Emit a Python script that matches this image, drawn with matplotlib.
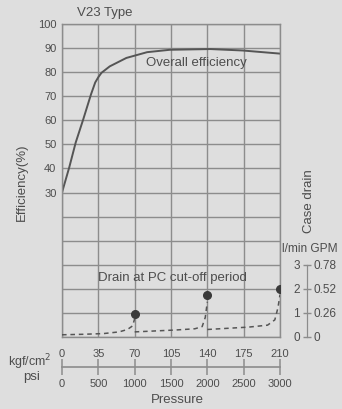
import matplotlib
matplotlib.use("Agg")
import matplotlib.pyplot as plt

# ---- data ----
eff_p = [0, 7, 13.2, 20.5, 27.9, 32, 35, 38, 46, 62, 82, 104, 143, 174, 210]
eff_v = [30, 40.5, 50.8, 60.5, 70.8, 75.8, 78, 79.8, 82.5, 86, 88.4, 89.4, 89.7, 89.1, 87.8]

seg1_p = [0, 20, 40, 55, 63, 68, 70]
seg1_d = [0.08, 0.1, 0.13, 0.2, 0.3, 0.45, 0.75]
seg2_p = [70, 90, 110, 128, 135, 138, 140]
seg2_d = [0.2, 0.24, 0.28, 0.33, 0.42, 0.8, 1.45]
seg3_p = [140, 160, 180, 198, 205, 208, 210]
seg3_d = [0.3, 0.35, 0.4, 0.48, 0.7, 1.2, 1.75]
dot_p = [70, 140, 210]
dot_d = [0.93, 1.73, 1.97]

kgf_ticks = [0, 35, 70, 105, 140, 175, 210]
kgf_labels = ["0", "35", "70", "105", "140", "175", "210"]
psi_labels = ["0", "500", "1000", "1500", "2000", "2500", "3000"]
eff_ticks = list(range(-30, 101, 10))
eff_labels = [str(t) if t >= 30 else "" for t in eff_ticks]
drain_ticks = [0, 1, 2, 3]
drain_labels = ["0", "1", "2", "3"]
gpm_labels = ["0", "0.26", "0.52", "0.78"]

# ---- style ----
W, H = 342, 409
BG = "#dedede"
TXT = "#4d4d4d"
GRID = "#8c8c8c"
LINE = "#555555"
FONT = "Liberation Sans"
plt.rcParams["font.family"] = [FONT, "DejaVu Sans"]

fig = plt.figure(figsize=(W / 100, H / 100), dpi=100, facecolor=BG)

def fx(x):
    return x / W

def fy(y):
    return 1 - y / H

L, R, T, B = 62, 280, 24.3, 336.7
ax = fig.add_axes([fx(L), fy(B), (R - L) / W, (B - T) / H])
ax.set_facecolor("none")
ax.set_xlim(0, 210)
ax.set_ylim(-30, 100)
ax.set_xticks(kgf_ticks)
ax.set_yticks(eff_ticks)
ax.set_yticklabels(eff_labels)
ax.tick_params(axis="x", length=0, labelbottom=False)
ax.tick_params(axis="y", length=0, pad=4, labelsize=8, labelcolor=TXT)
ax.grid(True, color=GRID, linewidth=1.0)
for s in ax.spines.values():
    s.set_color(GRID)
    s.set_linewidth(1.0)

ax.plot(eff_p, eff_v, color=LINE, linewidth=1.4, solid_capstyle="round",
        solid_joinstyle="round")
ax.text(129, 84, "Overall efficiency", ha="center", va="center",
        fontsize=9.5, color=TXT)
ax.text(106, -5.7, "Drain at PC cut-off period", ha="center", va="center",
        fontsize=9.5, color=TXT)

# drain axes (0..13 maps to full height)
ax2 = ax.twinx()
ax2.set_ylim(0, 13)
ax2.set_xlim(0, 210)
for p, d in ((seg1_p, seg1_d), (seg2_p, seg2_d), (seg3_p, seg3_d)):
    ax2.plot(p, d, color=LINE, linewidth=1.1, linestyle=(0, (3, 2.5)))
ax2.plot(dot_p, dot_d, "o", color="#3a3a3a", markersize=5.5, linestyle="none")

pos = (307 - L) / (R - L)
for k in ("top", "bottom", "right"):
    ax2.spines[k].set_visible(False)
ax2.spines["left"].set_position(("axes", pos))
ax2.spines["left"].set_bounds(0, 3)
ax2.spines["left"].set_color(GRID)
ax2.yaxis.set_ticks_position("left")
ax2.yaxis.set_label_position("left")
ax2.set_yticks(drain_ticks)
ax2.set_yticklabels(drain_labels)
ax2.tick_params(axis="y", direction="out", length=3, width=1, color=GRID,
                pad=2, labelsize=8.5, labelcolor=TXT)

ax3 = ax.twinx()
ax3.set_ylim(0, 13)
for k in ("top", "bottom", "left"):
    ax3.spines[k].set_visible(False)
ax3.spines["right"].set_position(("axes", pos))
ax3.spines["right"].set_bounds(0, 3)
ax3.spines["right"].set_color(GRID)
ax3.set_yticks(drain_ticks)
ax3.set_yticklabels(gpm_labels)
ax3.tick_params(axis="y", direction="out", length=3, width=1, color=GRID,
                pad=2, labelsize=8.5, labelcolor=TXT)

# pressure axis
yl = 367.3
axp = fig.add_axes([fx(L), fy(yl), (R - L) / W, 0.0001])
axp.set_facecolor("none")
axp.set_xlim(0, 210)
axp.set_yticks([])
for k in ("top", "left", "right"):
    axp.spines[k].set_visible(False)
axp.spines["bottom"].set_color(GRID)
axp.spines["bottom"].set_linewidth(1.2)
axp.set_xticks(kgf_ticks)
axp.set_xticklabels(psi_labels)
axp.tick_params(axis="x", direction="inout", length=11, width=1.1, color=GRID,
                pad=3, labelsize=8, labelcolor=TXT)
sec = axp.secondary_xaxis("top")
sec.set_xticks(kgf_ticks)
sec.set_xticklabels(kgf_labels)
sec.spines["top"].set_visible(False)
sec.tick_params(axis="x", length=0, pad=6, labelsize=8, labelcolor=TXT)

# texts
fig.text(fx(104.5), fy(13.3), "V23 Type", ha="center", va="center",
         fontsize=9.5, color=TXT)
fig.text(fx(21.5), fy(182), "Efficiency(%)", ha="center", va="center",
         rotation=90, fontsize=9.5, color=TXT)
fig.text(fx(309), fy(201), "Case drain", ha="center", va="center",
         rotation=90, fontsize=9.5, color=TXT)
fig.text(fx(282), fy(249), "l/min GPM", ha="left", va="center",
         fontsize=8.6, color=TXT)
fig.text(fx(30), fy(362), "kgf/cm$^2$", ha="center", va="center",
         fontsize=9, color=TXT)
fig.text(fx(32), fy(377), "psi", ha="center", va="center",
         fontsize=9.5, color=TXT)
fig.text(fx(177.5), fy(400), "Pressure", ha="center", va="center",
         fontsize=9.5, color=TXT)

fig.savefig("out.png", dpi=100, facecolor=BG)
